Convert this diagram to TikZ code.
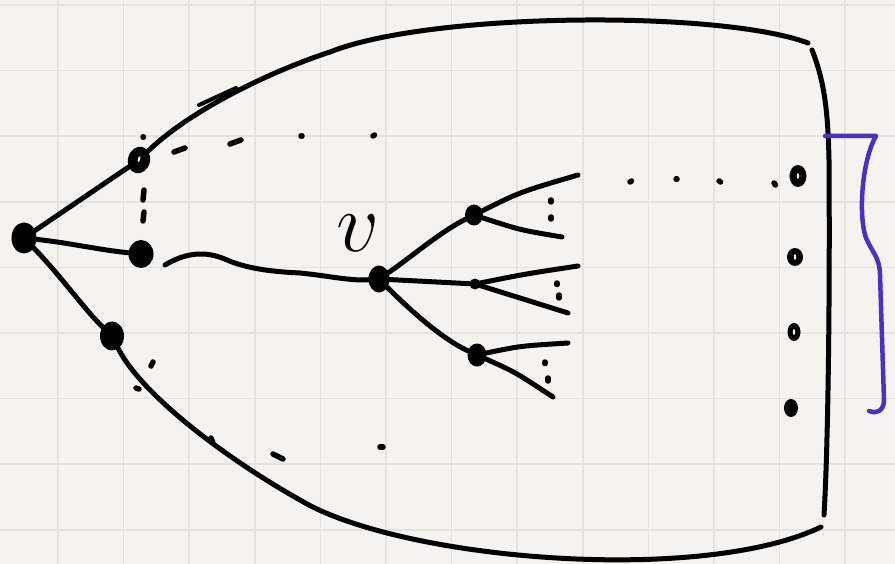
\documentclass[tikz,border=0pt]{standalone}
\usetikzlibrary{shapes.geometric}
\definecolor{paper}{HTML}{F4F3EF}
\definecolor{gridline}{HTML}{E4E3DE}
\definecolor{bracecol}{HTML}{4B30C2}
\tikzset{
  vert/.style 2 args={ellipse, fill=black, inner sep=0pt, minimum width=#1, minimum height=#2},
  hollow/.style 2 args={vert={#1}{#2}, path picture={\fill[paper] (path picture bounding box.center) ellipse (1.2pt and 3pt);}},
  link/.style={line width=5pt, line cap=round, line join=round},
  dotmark/.style={line width=5.5pt, line cap=round},
}
\begin{document}
\begin{tikzpicture}[x=1pt, y=-1pt]
\fill[paper] (0,0) rectangle (895,564);
\useasboundingbox (0,0) rectangle (895,564);
% squared paper
\foreach \gx in {0,...,12}
	\draw[gridline, line width=1.5pt] ({58+65.6*\gx},0) -- ++(0,564);
\foreach \gy in {0,...,8}
	\draw[gridline, line width=1.5pt] (0,{5+65.6*\gy}) -- ++(895,0);

% vertices
\node[vert={25pt}{31pt}] (root) at (24,238) {};
\node[hollow={22pt}{27pt}, rotate=-15] (c1) at (139,160) {};
\node[vert={25pt}{28pt}] (c2) at (141,254) {};
\node[vert={24pt}{29pt}] (c3) at (112,336) {};
\node[vert={21pt}{27pt}] (v) at (379,279) {};
\node[font=\Huge, scale=3.4] (vlab) at (358,233) {$v$};
\node[vert={18pt}{21pt}] (b1) at (474,215) {};
\node[vert={11pt}{11pt}] (b2) at (475,284) {};
\node[vert={19pt}{23pt}] (b3) at (477,355) {};
\node[hollow={17pt}{22pt}] (n1) at (798,176) {};
\node[hollow={16pt}{18pt}] (n2) at (795,257) {};
\node[hollow={13pt}{18pt}] (n3) at (794,332) {};
\node[vert={14pt}{18pt}] (n4) at (791,408) {};

% corners and loose ends
\coordinate (topend) at (808,43);
\coordinate (rtop) at (812,50);
\coordinate (rbot) at (824,515);
\coordinate (botend) at (821,527);
\coordinate (wig) at (165,265);
\coordinate (l11) at (578,175);
\coordinate (l12) at (562,237);
\coordinate (l21) at (578,266);
\coordinate (l22) at (568,313);
\coordinate (l31) at (568,343);
\coordinate (l32) at (553,397);

% edges of the tree
\draw[link] (root) -- (c1);
\draw[link] (root) .. controls (70,243) and (100,250) .. (c2);
\draw[link] (root) .. controls (60,275) and (85,310) .. (c3);
\draw[link] (wig) .. controls (185,253) and (205,250) .. (227,260)
	.. controls (250,270) and (280,272) .. (300,273)
	.. controls (330,276) and (350,281) .. (v);
\draw[link] (v) .. controls (410,258) and (440,232) .. (b1);
\draw[link] (v) -- (b2);
\draw[link] (v) .. controls (405,305) and (440,338) .. (b3);
\draw[link] (b1) .. controls (520,192) .. (l11);
\draw[link] (b1) .. controls (520,230) .. (l12);
\draw[link] (b2) .. controls (525,274) .. (l21);
\draw[link] (b2) .. controls (520,298) .. (l22);
\draw[link] (b3) .. controls (520,346) .. (l31);
\draw[link] (b3) .. controls (515,372) .. (l32);

% outline
\draw[link] (c1) .. controls (185,115) and (260,75) .. (330,52)
	.. controls (430,12) and (720,10) .. (topend);
\draw[link, line width=4pt] (199,105) -- (236,88);
\draw[link] (rtop) .. controls (824,80) and (828,110) .. (829,160)
	.. controls (830,300) and (828,450) .. (rbot);
\draw[link] (c3) .. controls (140,392) and (220,455) .. (300,500)
	.. controls (400,560) and (700,585) .. (botend);

% dots
\draw[dotmark] (143,137) -- ++(0.5,0);
\draw[dotmark] (174,152) -- (185,148);
\draw[dotmark] (230,144) -- (241,140);
\draw[dotmark] (301,136) -- ++(1,0);
\draw[dotmark] (373,136) -- ++(1.5,-1);
\draw[dotmark] (144,190) -- (143,200);
\draw[dotmark] (144,212) -- (143,221);
\draw[dotmark] (630,182) -- ++(1.5,-1);
\draw[dotmark] (676,179) -- ++(1,0);
\draw[dotmark] (719,181) -- ++(1.5,1);
\draw[dotmark] (774,183) -- ++(1.5,2);
\draw[dotmark] (551,200) -- ++(0,2);
\draw[dotmark] (551,217) -- ++(0,2);
\draw[dotmark] (557,283) -- ++(0,1.5);
\draw[dotmark] (559,295) -- ++(0,3);
\draw[dotmark] (545,362) -- ++(0,1.5);
\draw[dotmark] (548,378) -- ++(0,3);
\draw[dotmark] (151,366) -- (153,362);
\draw[dotmark] (136,388) -- ++(3,1);
\draw[dotmark] (211,438) -- ++(2,5);
\draw[dotmark] (273,454) -- (283,459);
\draw[dotmark] (380,447) -- ++(3,0);

% brace
\draw[line width=4.5pt, bracecol, line cap=round, line join=round] (825,136) -- (876,136)
	.. controls (862,160) and (858,215) .. (866,238)
	.. controls (872,252) and (880,258) .. (880,275)
	-- (884,400) .. controls (884,412) and (875,414) .. (869,411);
\end{tikzpicture}
\end{document}
